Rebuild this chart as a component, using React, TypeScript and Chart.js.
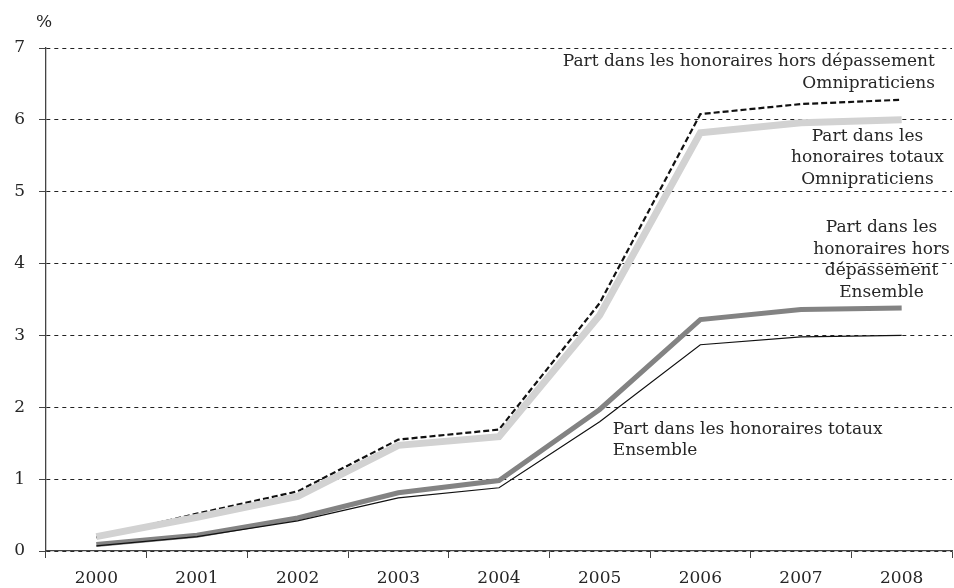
import React, { useEffect, useRef } from "react";
import { Chart, registerables } from "chart.js";

Chart.register(...registerables);

const years = ["2000", "2001", "2002", "2003", "2004", "2005", "2006", "2007", "2008"];
const horsDepOmni = [0.19, 0.52, 0.83, 1.55, 1.69, 3.45, 6.08, 6.22, 6.28];
const totauxOmni = [0.2, 0.47, 0.76, 1.47, 1.59, 3.28, 5.82, 5.96, 6.0];
const horsDepEnsemble = [0.09, 0.22, 0.46, 0.81, 0.98, 1.97, 3.22, 3.36, 3.38];
const totauxEnsemble = [0.07, 0.2, 0.42, 0.74, 0.88, 1.8, 2.87, 2.98, 3.0];
const yTicks = [0, 1, 2, 3, 4, 5, 6, 7];

const FONT = "'DejaVu Serif', serif";
const TEXT = "#262626";

type Note = { lines: string[]; x: number; y: number; align: CanvasTextAlign };
const notes: Note[] = [
  { lines: ["Part dans les honoraires hors dépassement", "Omnipraticiens"], x: 8.33, y: 6.81, align: "right" },
  { lines: ["Part dans les", "honoraires totaux", "Omnipraticiens"], x: 7.66, y: 5.77, align: "center" },
  { lines: ["Part dans les", "honoraires hors", "dépassement", "Ensemble"], x: 7.8, y: 4.5, align: "center" },
  { lines: ["Part dans les honoraires totaux", "Ensemble"], x: 5.13, y: 1.69, align: "left" },
];

const notesPlugin = {
  id: "notes",
  afterDatasetsDraw(chart: any) {
    const ctx = chart.ctx;
    const xs = chart.scales.x;
    const ys = chart.scales.y;
    ctx.save();
    ctx.fillStyle = TEXT;
    ctx.font = `17px ${FONT}`;
    ctx.textBaseline = "middle";
    for (const n of notes) {
      const px = xs.getPixelForValue(n.x);
      const py = ys.getPixelForValue(n.y);
      ctx.textAlign = n.align;
      n.lines.forEach((l, i) => ctx.fillText(l, px, py + i * 21.5));
    }
    ctx.textAlign = "center";
    ctx.fillText("%", chart.chartArea.left - 2, chart.chartArea.top - 25);
    ctx.restore();
  },
};

export default function App() {
  const ref = useRef<HTMLCanvasElement>(null);
  useEffect(() => {
    document.body.style.margin = "0";
    const chart = new Chart(ref.current!, {
      type: "line",
      data: {
        labels: years,
        datasets: [
          { label: "totaux Omnipraticiens", data: totauxOmni, borderColor: "#d2d2d2", borderWidth: 7, order: 1 },
          { label: "hors dépassement Omnipraticiens", data: horsDepOmni, borderColor: "#111", borderWidth: 2.2, borderDash: [6, 3], order: 2 },
          { label: "totaux Ensemble", data: totauxEnsemble, borderColor: "#111", borderWidth: 1.2, order: 3 },
          { label: "hors dépassement Ensemble", data: horsDepEnsemble, borderColor: "#838383", borderWidth: 5, order: 4 },
        ],
      },
      options: {
        animation: false,
        responsive: false,
        events: [],
        elements: { point: { radius: 0 }, line: { tension: 0, borderCapStyle: "butt", borderJoinStyle: "miter" } },
        layout: { padding: { top: 48, right: 2, left: 0, bottom: 0 } },
        plugins: { legend: { display: false }, tooltip: { enabled: false } },
        scales: {
          x: {
            offset: true,
            grid: { offset: true, drawOnChartArea: false, drawTicks: true, tickLength: 7, tickColor: "#444" },
            border: { color: "#444", width: 1.3 },
            ticks: { color: TEXT, font: { family: FONT, size: 17 }, padding: 10 },
            afterFit: (s: any) => { s.height = 37; },
          },
          y: {
            min: 0,
            max: 7,
            afterBuildTicks: (s: any) => { s.ticks = yTicks.map((v) => ({ value: v })); },
            grid: { color: "#222", lineWidth: 1, tickLength: 7, tickColor: "#444", tickBorderDash: [] },
            border: { color: "#444", width: 1.3, dash: [4, 4] },
            ticks: { color: TEXT, font: { family: FONT, size: 17 }, padding: 14 },
            afterFit: (s: any) => { s.width = 46; },
          } as any,
        },
      },
      plugins: [notesPlugin],
    });
    return () => chart.destroy();
  }, []);
  return <canvas ref={ref} width={954} height={588} style={{ display: "block" }} />;
}
